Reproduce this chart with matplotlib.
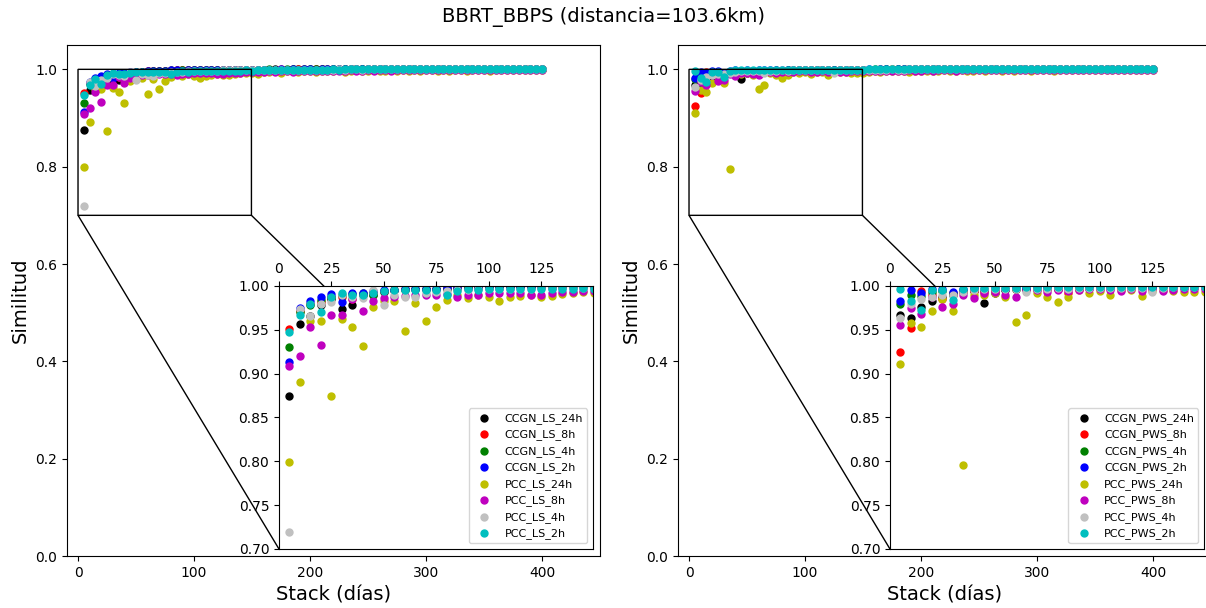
import matplotlib.pyplot as plt

# stack length (days)
stack = list(range(5, 405, 5))

# ---- left panel: LS ----
ccgn_ls_24h = [0.875, 0.957, 0.966, 0.978, 0.985, 0.974, 0.978, 0.990, 0.990, 0.993,
               0.995, 0.996, 0.996, 0.997, 0.997, 0.998, 0.998, 0.998, 0.998, 0.999,
               0.998, 0.999, 0.999, 0.999, 0.999, 0.999, 0.999, 0.999, 0.999, 0.999,
               0.999, 0.999, 0.999, 1.0, 0.999, 0.999, 1.0, 1.0, 0.999, 1.0,
               1.0, 1.0, 0.999, 1.0, 1.0, 1.0, 1.0, 1.0, 1.0, 1.0,
               1.0, 1.0, 1.0, 1.0, 1.0, 1.0, 1.0, 1.0, 1.0, 1.0,
               1.0, 1.0, 1.0, 1.0, 1.0, 1.0, 1.0, 1.0, 1.0, 1.0,
               1.0, 1.0, 1.0, 1.0, 1.0, 1.0, 1.0, 1.0, 1.0, 1.0]
ccgn_ls_8h = [0.951, 0.972, 0.980, 0.982, 0.988, 0.988, 0.985, 0.991, 0.993, 0.994,
              0.995, 0.996, 0.996, 0.997, 0.997, 0.997, 0.998, 0.998, 0.998, 0.998,
              0.999, 0.998, 0.999, 0.999, 0.999, 0.999, 0.999, 0.999, 0.999, 0.999,
              0.999, 0.999, 0.999, 0.999, 1.0, 0.999, 0.999, 1.0, 1.0, 0.999,
              1.0, 1.0, 1.0, 1.0, 0.999, 1.0, 1.0, 1.0, 1.0, 1.0,
              1.0, 1.0, 1.0, 1.0, 1.0, 1.0, 1.0, 1.0, 1.0, 1.0,
              1.0, 1.0, 1.0, 1.0, 1.0, 1.0, 1.0, 1.0, 1.0, 1.0,
              1.0, 1.0, 1.0, 1.0, 1.0, 1.0, 1.0, 1.0, 1.0, 1.0]
ccgn_ls_4h = [0.930, 0.970, 0.978, 0.984, 0.988, 0.990, 0.991, 0.992, 0.990, 0.994,
              0.995, 0.995, 0.996, 0.996, 0.997, 0.997, 0.997, 0.998, 0.998, 0.998,
              0.998, 0.999, 0.999, 0.999, 0.999, 0.999, 0.999, 0.999, 0.999, 0.999,
              0.999, 0.999, 1.0, 0.999, 0.999, 1.0, 1.0, 0.999, 1.0, 1.0,
              1.0, 1.0, 1.0, 1.0, 1.0, 1.0, 1.0, 1.0, 1.0, 1.0,
              1.0, 1.0, 1.0, 1.0, 1.0, 1.0, 1.0, 1.0, 1.0, 1.0,
              1.0, 1.0, 1.0, 1.0, 1.0, 1.0, 1.0, 1.0, 1.0, 1.0,
              1.0, 1.0, 1.0, 1.0, 1.0, 1.0, 1.0, 1.0, 1.0, 1.0]
ccgn_ls_2h = [0.913, 0.975, 0.983, 0.987, 0.991, 0.982, 0.992, 0.992, 0.994, 0.995,
              0.995, 0.997, 0.996, 0.996, 0.997, 0.998, 0.998, 0.997, 0.998, 0.998,
              0.998, 0.998, 0.999, 0.999, 0.999, 0.998, 0.999, 0.999, 0.999, 0.999,
              0.999, 0.999, 0.999, 0.999, 1.0, 0.999, 1.0, 0.999, 1.0, 1.0,
              0.999, 1.0, 1.0, 1.0, 1.0, 1.0, 1.0, 1.0, 1.0, 1.0,
              1.0, 1.0, 1.0, 1.0, 1.0, 1.0, 1.0, 1.0, 1.0, 1.0,
              1.0, 1.0, 1.0, 1.0, 1.0, 1.0, 1.0, 1.0, 1.0, 1.0,
              1.0, 1.0, 1.0, 1.0, 1.0, 1.0, 1.0, 1.0, 1.0, 1.0]
pcc_ls_24h = [0.799, 0.891, 0.960, 0.960, 0.874, 0.962, 0.953, 0.931, 0.976, 0.983,
              0.983, 0.949, 0.981, 0.960, 0.976, 0.984, 0.990, 0.986, 0.990, 0.987,
              0.983, 0.987, 0.989, 0.990, 0.988, 0.989, 0.991, 0.992, 0.993, 0.992,
              0.990, 0.995, 0.994, 0.996, 0.993, 0.996, 0.997, 0.995, 0.996, 0.997,
              0.994, 0.997, 0.996, 0.997, 0.998, 0.995, 0.997, 0.998, 0.996, 0.997,
              0.998, 0.997, 0.996, 0.998, 0.997, 0.998, 0.996, 0.998, 0.997, 0.998,
              0.998, 0.996, 0.998, 0.997, 0.998, 0.998, 0.997, 0.998, 0.998, 0.998,
              0.997, 0.998, 0.998, 0.999, 0.998, 0.998, 0.999, 0.998, 0.999, 0.999]
pcc_ls_8h = [0.909, 0.920, 0.953, 0.933, 0.967, 0.967, 0.985, 0.972, 0.983, 0.986,
             0.988, 0.989, 0.990, 0.990, 0.990, 0.991, 0.988, 0.990, 0.990, 0.992,
             0.992, 0.992, 0.992, 0.990, 0.990, 0.992, 0.993, 0.993, 0.994, 0.994,
             0.995, 0.995, 0.996, 0.995, 0.996, 0.996, 0.995, 0.997, 0.996, 0.997,
             0.996, 0.997, 0.997, 0.996, 0.997, 0.997, 0.998, 0.997, 0.997, 0.998,
             0.997, 0.998, 0.998, 0.997, 0.998, 0.998, 0.998, 0.998, 0.998, 0.998,
             0.999, 0.998, 0.998, 0.999, 0.998, 0.999, 0.999, 0.998, 0.999, 0.999,
             0.999, 0.999, 0.999, 0.999, 0.999, 0.999, 0.999, 0.999, 0.999, 0.999]
pcc_ls_4h = [0.719, 0.974, 0.966, 0.979, 0.982, 0.990, 0.988, 0.986, 0.995, 0.978,
             0.990, 0.988, 0.987, 0.992, 0.993, 0.994, 0.995, 0.995, 0.996, 0.996,
             0.996, 0.997, 0.997, 0.997, 0.998, 0.998, 0.998, 0.998, 0.998, 0.998,
             0.998, 0.999, 0.998, 0.999, 0.999, 0.999, 0.998, 0.999, 0.999, 0.999,
             0.999, 0.999, 0.999, 0.999, 1.0, 0.999, 1.0, 1.0, 0.999, 1.0,
             1.0, 1.0, 1.0, 1.0, 1.0, 1.0, 1.0, 1.0, 1.0, 1.0,
             1.0, 1.0, 1.0, 1.0, 1.0, 1.0, 1.0, 1.0, 1.0, 1.0,
             1.0, 1.0, 1.0, 1.0, 1.0, 1.0, 1.0, 1.0, 1.0, 1.0]
pcc_ls_2h = [0.947, 0.967, 0.980, 0.970, 0.988, 0.992, 0.990, 0.990, 0.992, 0.994,
             0.995, 0.995, 0.995, 0.995, 0.995, 0.990, 0.994, 0.996, 0.995, 0.996,
             0.996, 0.997, 0.997, 0.996, 0.997, 0.997, 0.996, 0.997, 0.998, 0.997,
             0.998, 0.998, 0.998, 0.999, 0.998, 0.999, 0.999, 0.999, 0.999, 0.999,
             0.999, 0.999, 0.999, 1.0, 0.999, 1.0, 1.0, 1.0, 1.0, 1.0,
             1.0, 1.0, 1.0, 1.0, 1.0, 1.0, 1.0, 1.0, 1.0, 1.0,
             1.0, 1.0, 1.0, 1.0, 1.0, 1.0, 1.0, 1.0, 1.0, 1.0,
             1.0, 1.0, 1.0, 1.0, 1.0, 1.0, 1.0, 1.0, 1.0, 1.0]

# ---- right panel: PWS ----
ccgn_pws_24h = [0.967, 0.964, 0.976, 0.983, 0.987, 0.990, 0.993, 0.994, 0.981, 0.992,
                0.995, 0.996, 0.996, 0.997, 0.997, 0.997, 0.998, 0.996, 0.998, 0.998,
                0.998, 0.998, 0.999, 0.998, 0.999, 0.999, 0.999, 0.999, 0.999, 0.999,
                0.999, 0.999, 0.999, 1.0, 0.999, 1.0, 1.0, 0.999, 1.0, 1.0,
                1.0, 1.0, 1.0, 1.0, 1.0, 1.0, 1.0, 1.0, 1.0, 1.0,
                1.0, 1.0, 1.0, 1.0, 1.0, 1.0, 1.0, 1.0, 1.0, 1.0,
                1.0, 1.0, 1.0, 1.0, 1.0, 1.0, 1.0, 1.0, 1.0, 1.0,
                1.0, 1.0, 1.0, 1.0, 1.0, 1.0, 1.0, 1.0, 1.0, 1.0]
ccgn_pws_8h = [0.925, 0.952, 0.994, 0.990, 0.985, 0.992, 0.994, 0.994, 0.993, 0.995,
               0.996, 0.996, 0.997, 0.997, 0.997, 0.997, 0.992, 0.998, 0.998, 0.998,
               0.998, 0.998, 0.999, 0.999, 0.999, 0.999, 0.999, 0.999, 0.999, 0.999,
               0.999, 0.999, 1.0, 0.999, 1.0, 0.999, 1.0, 1.0, 1.0, 1.0,
               1.0, 1.0, 1.0, 1.0, 1.0, 1.0, 1.0, 1.0, 1.0, 1.0,
               1.0, 1.0, 1.0, 1.0, 1.0, 1.0, 1.0, 1.0, 1.0, 1.0,
               1.0, 1.0, 1.0, 1.0, 1.0, 1.0, 1.0, 1.0, 1.0, 1.0,
               1.0, 1.0, 1.0, 1.0, 1.0, 1.0, 1.0, 1.0, 1.0, 1.0]
ccgn_pws_4h = [0.980, 0.990, 0.989, 0.993, 0.994, 0.992, 0.995, 0.996, 0.995, 0.996,
               0.996, 0.997, 0.997, 0.997, 0.998, 0.997, 0.998, 0.998, 0.998, 0.998,
               0.999, 0.999, 0.999, 0.999, 0.999, 0.999, 0.999, 0.999, 0.999, 0.999,
               0.999, 1.0, 0.999, 1.0, 1.0, 1.0, 0.999, 1.0, 1.0, 1.0,
               1.0, 1.0, 1.0, 1.0, 1.0, 1.0, 1.0, 1.0, 1.0, 1.0,
               1.0, 1.0, 1.0, 1.0, 1.0, 1.0, 1.0, 1.0, 1.0, 1.0,
               1.0, 1.0, 1.0, 1.0, 1.0, 1.0, 1.0, 1.0, 1.0, 1.0,
               1.0, 1.0, 1.0, 1.0, 1.0, 1.0, 1.0, 1.0, 1.0, 1.0]
ccgn_pws_2h = [0.983, 0.995, 0.992, 0.996, 0.997, 0.993, 0.997, 0.998, 0.997, 0.998,
               0.997, 0.998, 0.998, 0.998, 0.998, 0.999, 0.998, 0.999, 0.999, 0.999,
               0.998, 0.999, 0.999, 0.999, 0.999, 0.999, 0.999, 0.999, 0.999, 0.999,
               1.0, 0.999, 1.0, 1.0, 0.999, 1.0, 1.0, 1.0, 1.0, 1.0,
               1.0, 1.0, 1.0, 1.0, 1.0, 1.0, 1.0, 1.0, 1.0, 1.0,
               1.0, 1.0, 1.0, 1.0, 1.0, 1.0, 1.0, 1.0, 1.0, 1.0,
               1.0, 1.0, 1.0, 1.0, 1.0, 1.0, 1.0, 1.0, 1.0, 1.0,
               1.0, 1.0, 1.0, 1.0, 1.0, 1.0, 1.0, 1.0, 1.0, 1.0]
pcc_pws_24h = [0.911, 0.958, 0.953, 0.971, 0.985, 0.972, 0.796, 0.990, 0.990, 0.992,
               0.988, 0.959, 0.967, 0.992, 0.988, 0.982, 0.988, 0.995, 0.992, 0.994,
               0.990, 0.995, 0.995, 0.989, 0.994, 0.995, 0.994, 0.993, 0.993, 0.993,
               0.995, 0.996, 0.995, 0.997, 0.996, 0.996, 0.997, 0.995, 0.997, 0.996,
               0.997, 0.997, 0.996, 0.998, 0.997, 0.997, 0.998, 0.996, 0.997, 0.998,
               0.997, 0.998, 0.998, 0.997, 0.998, 0.996, 0.998, 0.998, 0.997, 0.998,
               0.998, 0.998, 0.997, 0.998, 0.998, 0.999, 0.998, 0.998, 0.998, 0.999,
               0.998, 0.999, 0.998, 0.999, 0.999, 0.998, 0.999, 0.999, 0.999, 0.999]
pcc_pws_8h = [0.956, 0.975, 0.968, 0.988, 0.976, 0.979, 0.990, 0.986, 0.992, 0.993,
              0.990, 0.988, 0.995, 0.995, 0.993, 0.995, 0.994, 0.995, 0.996, 0.996,
              0.995, 0.994, 0.996, 0.994, 0.996, 0.994, 0.995, 0.996, 0.996, 0.996,
              0.997, 0.996, 0.997, 0.997, 0.996, 0.997, 0.997, 0.998, 0.997, 0.997,
              0.998, 0.997, 0.998, 0.998, 0.998, 0.997, 0.998, 0.998, 0.998, 0.998,
              0.998, 0.999, 0.998, 0.998, 0.999, 0.998, 0.999, 0.999, 0.998, 0.999,
              0.999, 0.999, 0.999, 0.999, 0.999, 0.999, 0.999, 0.999, 0.999, 0.999,
              0.999, 0.999, 0.999, 0.999, 0.999, 0.999, 0.999, 0.999, 0.999, 0.999]
pcc_pws_4h = [0.964, 0.979, 0.985, 0.988, 0.990, 0.990, 0.993, 0.995, 0.996, 0.996,
              0.996, 0.997, 0.993, 0.997, 0.997, 0.998, 0.997, 0.998, 0.998, 0.998,
              0.998, 0.998, 0.998, 0.998, 0.993, 0.998, 0.999, 0.999, 0.999, 0.999,
              0.999, 0.999, 0.999, 0.999, 1.0, 0.999, 0.999, 1.0, 1.0, 1.0,
              1.0, 1.0, 1.0, 1.0, 1.0, 1.0, 1.0, 1.0, 1.0, 1.0,
              1.0, 1.0, 1.0, 1.0, 1.0, 1.0, 1.0, 1.0, 1.0, 1.0,
              1.0, 1.0, 1.0, 1.0, 1.0, 1.0, 1.0, 1.0, 1.0, 1.0,
              1.0, 1.0, 1.0, 1.0, 1.0, 1.0, 1.0, 1.0, 1.0, 1.0]
pcc_pws_2h = [0.996, 0.983, 0.973, 0.995, 0.995, 0.984, 0.997, 0.998, 0.998, 0.998,
              0.998, 0.998, 0.999, 0.998, 0.999, 0.999, 0.999, 0.999, 0.999, 0.999,
              0.999, 0.999, 0.999, 0.999, 0.999, 0.999, 0.999, 0.999, 0.999, 0.999,
              1.0, 1.0, 1.0, 1.0, 1.0, 1.0, 1.0, 1.0, 1.0, 1.0,
              1.0, 1.0, 1.0, 1.0, 1.0, 1.0, 1.0, 1.0, 1.0, 1.0,
              1.0, 1.0, 1.0, 1.0, 1.0, 1.0, 1.0, 1.0, 1.0, 1.0,
              1.0, 1.0, 1.0, 1.0, 1.0, 1.0, 1.0, 1.0, 1.0, 1.0,
              1.0, 1.0, 1.0, 1.0, 1.0, 1.0, 1.0, 1.0, 1.0, 1.0]

labels_ls = ['CCGN_LS_24h', 'CCGN_LS_8h', 'CCGN_LS_4h', 'CCGN_LS_2h',
             'PCC_LS_24h', 'PCC_LS_8h', 'PCC_LS_4h', 'PCC_LS_2h']
labels_pws = ['CCGN_PWS_24h', 'CCGN_PWS_8h', 'CCGN_PWS_4h', 'CCGN_PWS_2h',
              'PCC_PWS_24h', 'PCC_PWS_8h', 'PCC_PWS_4h', 'PCC_PWS_2h']
colors = ['k', 'r', 'g', 'b', 'y', 'm', 'silver', 'c']

series_ls = [ccgn_ls_24h, ccgn_ls_8h, ccgn_ls_4h, ccgn_ls_2h,
             pcc_ls_24h, pcc_ls_8h, pcc_ls_4h, pcc_ls_2h]
series_pws = [ccgn_pws_24h, ccgn_pws_8h, ccgn_pws_4h, ccgn_pws_2h,
              pcc_pws_24h, pcc_pws_8h, pcc_pws_4h, pcc_pws_2h]

fig = plt.figure(figsize=(12.06, 6.08), dpi=100)
fig.suptitle('BBRT_BBPS (distancia=103.6km)', fontsize=14, y=0.988)


def panel(rect, series, labels):
    ax = fig.add_axes(rect)
    axins = ax.inset_axes([0.3977, 0.0137, 0.589, 0.5147])
    for vals, lab, col in zip(series, labels, colors):
        ax.scatter(stack, vals, s=25, c=col, label=lab)
        axins.scatter(stack, vals, s=25, c=col, label=lab)
    ax.set_xlim(-9.5, 450)
    ax.set_ylim(0, 1.05)
    ax.set_xlabel('Stack (días)', fontsize=14)
    ax.set_ylabel('Similitud', fontsize=14)
    # zoom window: first ~150 days, similarity 0.7-1.0
    axins.set_xlim(0, 149.5)
    axins.set_ylim(0.7, 1.0)
    axins.xaxis.tick_top()
    axins.legend(loc='lower right', fontsize=8)
    ax.indicate_inset_zoom(axins, edgecolor='black', alpha=1.0)
    return ax


panel([67 / 1206, 52 / 608, 533 / 1206, 511 / 608], series_ls, labels_ls)
panel([678 / 1206, 52 / 608, 533 / 1206, 511 / 608], series_pws, labels_pws)

plt.savefig('out.png', dpi=100)
